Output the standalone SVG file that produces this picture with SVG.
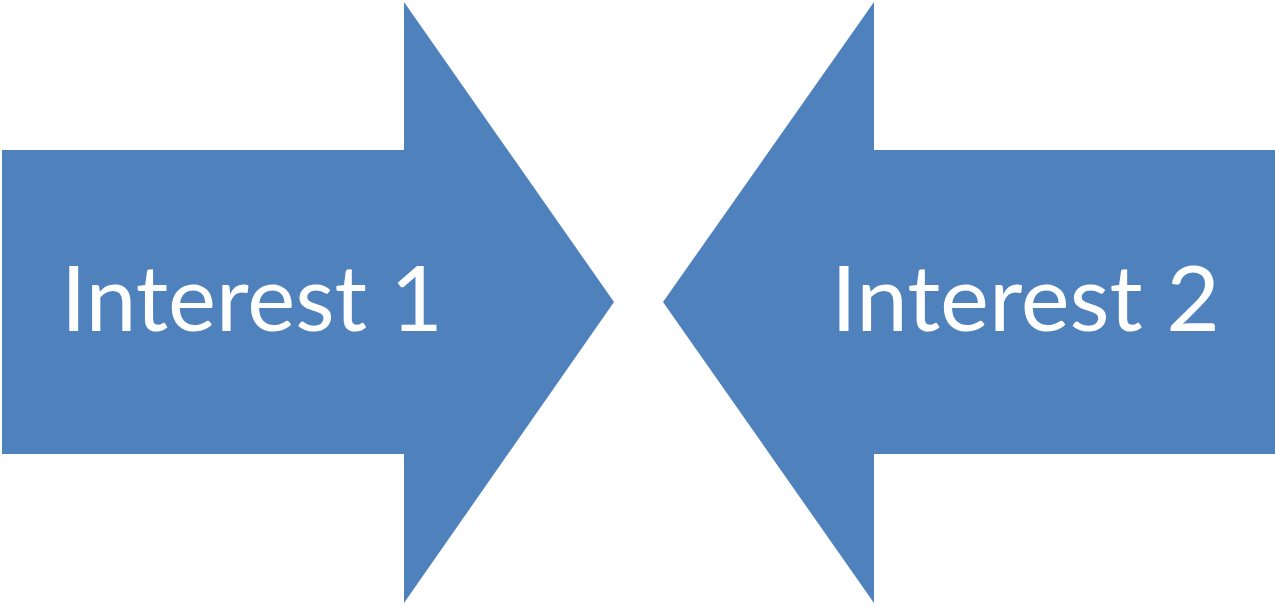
<svg xmlns="http://www.w3.org/2000/svg" width="1275" height="606" viewBox="0 0 1275 606">
<style>
.arrow{fill:#4F81BD;}
.lbl{fill:#FFFFFF;font-family:Lato,"Open Sans","Liberation Sans",sans-serif;font-size:91px;}
</style>
<rect width="1275" height="606" fill="#FFFFFF"/>
<g id="interest1">
<polygon class="arrow" points="2,150 404,150 404,2 614,302 404,603 404,454 2,454"/>
<text class="lbl" x="61" y="331" textLength="382" lengthAdjust="spacingAndGlyphs">Interest 1</text>
</g>
<g id="interest2">
<polygon class="arrow" points="1275,150 874,150 874,2 663,302 874,603 874,454 1275,454"/>
<text class="lbl" x="831" y="331" textLength="389" lengthAdjust="spacingAndGlyphs">Interest 2</text>
</g>
<g id="connectors"></g>
</svg>
